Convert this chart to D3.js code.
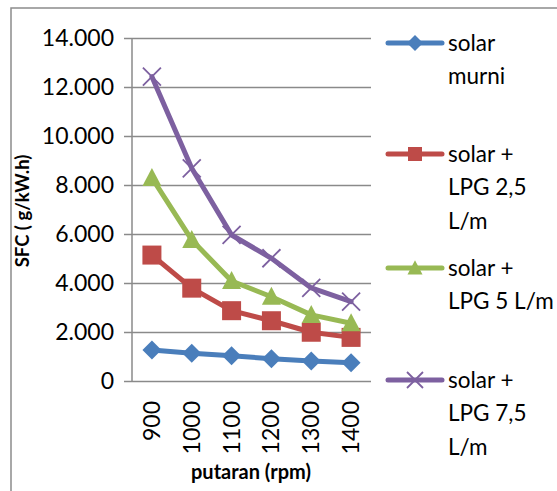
<!DOCTYPE html>
<html>
<head>
<meta charset="utf-8">
<script src="https://cdn.jsdelivr.net/npm/d3@7"></script>
<style>
  html, body { margin: 0; padding: 0; background: #fff; }
  svg { display: block; font-family: Lato, "Open Sans", sans-serif; }
</style>
</head>
<body>
<script>
const categories = ["900", "1000", "1100", "1200", "1300", "1400"]
const seriesNames = ["solar murni", "solar + LPG 2,5 L/m", "solar + LPG 5 L/m", "solar + LPG 7,5 L/m"]
const legendLines = [["solar", "murni"], ["solar +", "LPG 2,5", "L/m"], ["solar +", "LPG 5 L/m"], ["solar +", "LPG 7,5", "L/m"]]
const solarMurni = [1265, 1130, 1030, 910, 816, 747]
const lpg25 = [5140, 3790, 2870, 2460, 1990, 1780]
const lpg5 = [8290, 5760, 4080, 3440, 2700, 2360]
const lpg75 = [12420, 8680, 5960, 5010, 3800, 3240]
const yTicks = [0, 2000, 4000, 6000, 8000, 10000, 12000, 14000]
const colors = ["#4a7ebb", "#be4b48", "#98b954", "#7d60a0"]
const markers = ["diamond", "square", "triangle", "cross"]

const width = 557, height = 491
const plot = { left: 132, right: 371, top: 38, bottom: 381 }

const svg = d3.select("body").append("svg")
  .attr("width", width).attr("height", height)

// outer chart frame
svg.append("rect")
  .attr("x", 11).attr("y", 8)
  .attr("width", width + 10).attr("height", height + 10)
  .attr("fill", "none").attr("stroke", "#8c8c8c").attr("stroke-width", 1.5)

const x = d3.scaleBand().domain(categories).range([plot.left, plot.right])
const y = d3.scaleLinear().domain([0, 14000]).range([plot.bottom, plot.top])

const fmt = d3.formatLocale({ decimal: ",", thousands: ".", grouping: [3], currency: ["", ""] }).format(",")

// gridlines + y axis
const yAxis = d3.axisLeft(y).tickValues(yTicks).tickFormat(fmt)
  .tickSize(-(plot.right - plot.left)).tickSizeOuter(0).tickPadding(18)
const gy = svg.append("g").attr("transform", `translate(${plot.left},0)`).call(yAxis)
gy.select(".domain").remove()
gy.selectAll(".tick line")
  .attr("x1", -8)
  .attr("stroke", "#8a8a8a").attr("stroke-width", 1.5)
gy.selectAll(".tick text")
  .attr("font-size", 23).attr("fill", "#000")
  .style("font-family", "Lato")

// y axis line
svg.append("line")
  .attr("x1", plot.left).attr("x2", plot.left)
  .attr("y1", plot.top).attr("y2", plot.bottom)
  .attr("stroke", "#8a8a8a").attr("stroke-width", 1.5)

// x axis
const xAxis = d3.axisBottom(x).tickSize(0).tickPadding(0)
const gx = svg.append("g").attr("transform", `translate(0,${plot.bottom})`).call(xAxis)
gx.select(".domain").remove()
gx.selectAll(".tick text")
  .attr("transform", "rotate(-90)")
  .attr("x", -20).attr("y", 0).attr("dy", "0.35em")
  .attr("text-anchor", "end")
  .attr("font-size", 23).attr("fill", "#000")
  .style("font-family", "Lato")

// axis titles
svg.append("text")
  .attr("transform", `translate(23,211) rotate(-90)`)
  .attr("text-anchor", "middle").attr("dy", "0.35em")
  .attr("font-size", 18.5).attr("font-weight", "bold")
  .text("SFC ( g/kW.h)")
svg.append("text")
  .attr("x", 251).attr("y", 472).attr("dy", "0.35em")
  .attr("text-anchor", "middle")
  .attr("font-size", 20).attr("font-weight", "bold")
  .text("putaran (rpm)")

const allSeries = [solarMurni, lpg25, lpg5, lpg75]
const cx = c => x(c) + x.bandwidth() / 2

function drawMarker(g, type, color, s) {
  if (type === "diamond") {
    g.append("path").attr("d", `M0,${-s}L${s},0L0,${s}L${-s},0Z`).attr("fill", color)
  } else if (type === "square") {
    g.append("rect").attr("x", -s).attr("y", -s).attr("width", 2 * s).attr("height", 2 * s).attr("fill", color)
  } else if (type === "triangle") {
    g.append("path").attr("d", `M0,${-s * 1.05}L${s},${s * 0.85}L${-s},${s * 0.85}Z`).attr("fill", color)
  } else {
    g.append("path").attr("d", `M${-s},${-s}L${s},${s}M${s},${-s}L${-s},${s}`)
      .attr("stroke", color).attr("stroke-width", 1.8).attr("fill", "none")
  }
}

const line = d3.line().x((d, i) => cx(categories[i])).y(d => y(d))
const markerSize = [9.5, 9.5, 9.5, 9]

allSeries.forEach((vals, si) => {
  const g = svg.append("g")
  g.append("path").datum(vals)
    .attr("d", line)
    .attr("fill", "none").attr("stroke", colors[si])
    .attr("stroke-width", 5).attr("stroke-linejoin", "round").attr("stroke-linecap", "round")
  vals.forEach((v, i) => {
    const m = g.append("g").attr("transform", `translate(${cx(categories[i])},${y(v)})`)
    drawMarker(m, markers[si], colors[si], markerSize[si])
  })
})

// legend
const legendY = [43, 154, 268, 380]
const legendMarker = [8, 7, 7.5, 8]
seriesNames.forEach((name, si) => {
  const g = svg.append("g").attr("transform", `translate(0,${legendY[si]})`)
  g.append("line").attr("x1", 388).attr("x2", 442).attr("y1", 0).attr("y2", 0)
    .attr("stroke", colors[si]).attr("stroke-width", 5).attr("stroke-linecap", "round")
  const m = g.append("g").attr("transform", "translate(415,0)")
  drawMarker(m, markers[si], colors[si], legendMarker[si])
  legendLines[si].forEach((t, li) => {
    g.append("text").attr("x", 448).attr("y", li * 33.5).attr("dy", "0.35em")
      .attr("font-size", 22.5).attr("fill", "#000").text(t)
  })
})
</script>
</body>
</html>
